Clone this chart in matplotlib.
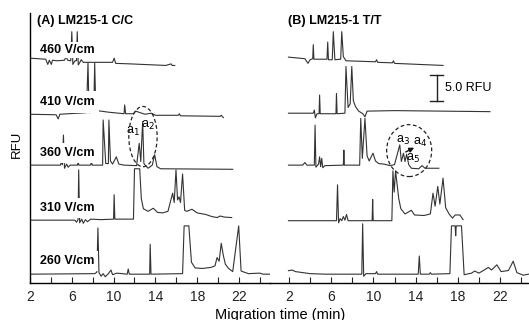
import matplotlib
matplotlib.use('Agg')
import matplotlib.pyplot as plt
from matplotlib.patches import Ellipse

plt.rcParams['font.family'] = ['Liberation Sans', 'DejaVu Sans']

# field strengths, top to bottom
fields = ['460 V/cm', '410 V/cm', '360 V/cm', '310 V/cm', '260 V/cm']
# trace baselines (RFU) used to stack the electropherograms
offsets = [42.5, 32.5, 22.5, 12.0, 1.7]

# ---- panel A: LM215-1 C/C (time in min, signal in RFU above baseline) ----
a460_t = [2.0, 3.5, 3.7, 3.85, 4.05, 4.15, 4.6, 5.3, 5.45, 5.6, 5.9, 6.0, 6.1, 6.3, 6.45,
          6.52, 6.62, 6.8, 6.9, 7.1, 9.9, 10.05, 10.2, 11.6, 15.0, 15.5, 15.6, 15.85]
a460_y = [0.8, 0.6, -0.4, 0.4, -0.4, 0.4, 0.3, 0.4, 1.1, 0.4, 0.3, 5.9, -0.4, 0.3, 0.3,
          5.9, -0.5, 0.1, 0.5, 0.0, 0.0, 0.8, -0.2, -0.3, -0.6, -0.3, -0.6, -0.6]

a410_t = [2.0, 4.5, 4.7, 4.85, 7.4, 7.55, 7.65, 8.1, 8.19, 8.3, 8.8, 9.5, 11.0, 11.06,
          11.15, 11.9, 12.1, 12.4, 13.0, 13.6, 14.0, 16.2, 16.3, 16.4, 20.2, 20.3, 20.5]
a410_y = [0.0, -0.1, -0.9, 0.0, 0.3, 9.9, 0.3, 0.4, 9.9, 0.7, 0.6, 0.4, 0.1, 1.8,
          0.1, 0.1, 0.6, 0.4, 0.0, 0.2, -0.2, -0.2, 0.1, -0.3, -0.4, -0.2, -0.65]

a360_t = [2.0, 4.9, 5.0, 5.1, 5.2, 5.3, 5.5, 5.65, 5.85, 6.55, 6.6, 6.68, 7.8, 7.87, 7.95,
          8.95, 9.0, 9.25, 9.5, 9.55, 9.7, 9.9, 10.26, 10.5, 11.0, 12.2, 12.45, 12.6,
          12.78, 12.9, 13.3, 13.7, 13.93, 14.15, 14.5, 21.4]
a360_y = [0.2, 0.2, 0.7, 0.3, 6.0, -0.4, 0.4, -0.2, 0.2, 0.2, 0.9, 0.2, 0.2, 0.9, 0.2,
          0.2, 8.9, 0.5, 0.5, 8.9, 1.0, 0.4, 1.8, 0.4, 0.2, 0.1, 4.4, 0.9,
          8.6, 0.5, -0.4, 0.2, 2.2, -0.1, -0.5, -0.6]

a310_t = [2.0, 6.3, 6.45, 6.6, 6.66, 6.75, 6.95, 7.1, 7.3, 7.5, 7.8, 8.8, 10.0, 10.05,
          10.12, 11.9, 12.0, 12.5, 12.65, 12.85, 13.3, 13.8, 14.2, 14.7, 15.2, 15.65,
          15.8, 15.97, 16.12, 16.26, 16.4, 16.6, 16.8, 17.0, 17.5, 18.0, 18.8, 19.4,
          19.9, 20.2, 20.6, 21.3]
a310_y = [0.1, 0.1, -0.3, 0.2, 9.8, -0.4, 0.3, -0.5, 0.2, -0.2, 0.3, 0.2, 0.3, 5.0,
          0.3, 0.3, 10.0, 10.0, 4.3, 2.3, 1.8, 2.4, 1.6, 1.5, 1.8, 5.3,
          3.5, 9.8, 4.0, 4.6, 3.5, 9.0, 2.0, 1.8, 2.2, 1.5, 1.2, 0.8,
          0.6, 0.9, 0.7, 0.6]

a260_t = [2.0, 8.2, 8.4, 8.5, 8.6, 8.8, 9.0, 9.2, 9.5, 9.75, 9.9, 10.3, 11.3, 11.4, 11.5,
          13.45, 13.5, 13.58, 16.6, 16.75, 17.2, 17.45, 17.8, 18.5, 19.3, 19.7, 19.9,
          20.1, 20.3, 20.5, 20.7, 21.0, 21.4, 21.97, 22.2, 22.9, 24.0, 24.3, 25.1]
a260_y = [0.0, 0.1, 0.4, 8.9, 0.3, -0.4, 0.1, -0.5, 0.1, 0.8, -0.1, 0.2, 0.0, 1.0, 0.0,
          0.0, 5.75, 0.0, 0.1, 9.3, 9.3, 2.3, 1.2, 1.1, 1.3, 1.6, 3.2,
          2.5, 5.95, 3.6, 1.9, 1.1, 0.5, 9.3, 0.6, 0.1, 0.2, 0.0, 0.0]

# ---- panel B: LM215-1 T/T ----
b460_t = [1.95, 3.5, 3.8, 4.0, 4.25, 4.3, 4.36, 5.6, 5.67, 5.74, 6.1, 6.2, 6.35, 6.9, 7.0,
          7.15, 7.4, 10.2, 10.3, 10.4, 11.8, 11.9, 12.0, 16.6]
b460_y = [1.0, 0.7, -0.2, 0.5, 0.7, 3.4, 0.6, 0.6, 3.9, 0.5, 0.5, 5.9, 0.5, 0.6, 5.9,
          1.1, 0.3, 0.1, 0.5, 0.0, -0.1, 0.3, -0.2, -0.6]

b410_t = [1.95, 4.3, 4.4, 4.5, 4.65, 4.85, 4.9, 4.96, 6.45, 6.5, 6.56, 7.3, 7.4, 7.6, 7.8,
          7.95, 8.1, 8.3, 8.6, 9.0, 9.2, 9.4, 12.0, 21.05]
b410_y = [0.2, 0.2, 0.8, -0.7, 0.1, 0.1, 3.7, 0.1, 0.1, 4.0, 0.1, 0.2, 9.2, 1.3, 2.0,
          9.2, 2.6, 1.5, 0.6, 0.1, -0.5, 0.6, 0.7, 0.5]

b360_t = [1.95, 3.3, 3.5, 3.7, 4.4, 4.47, 4.55, 4.8, 4.9, 5.0, 5.1, 5.2, 5.4, 7.15, 7.2,
          7.25, 8.7, 8.8, 8.95, 9.2, 9.4, 9.6, 9.96, 10.2, 10.5, 11.0, 11.6, 12.0, 12.5,
          12.65, 12.85, 13.0, 13.15, 13.35, 13.6, 14.3, 14.6, 14.9, 16.2]
b360_y = [0.2, 0.2, 0.7, 0.2, 0.2, 7.9, -0.2, 0.4, 1.8, -0.1, 1.5, -0.3, 0.1, 0.2, 3.1,
          0.2, 0.2, 9.2, 1.5, 9.2, 2.0, 1.0, 2.5, 1.0, 0.5, 0.4, 0.1, 0.3, 4.1,
          0.9, 2.5, 0.9, 2.3, 0.3, -0.4, -0.5, 0.1, -0.4, -0.4]

b310_t = [1.95, 6.5, 6.6, 6.7, 6.85, 7.0, 7.15, 7.3, 7.45, 7.6, 9.88, 9.93, 9.98, 11.75,
          11.85, 11.97, 12.1, 12.4, 12.6, 13.0, 13.6, 13.9, 14.8, 15.4, 15.65, 15.85,
          16.1, 16.3, 16.6, 16.85, 17.2, 17.5, 17.75, 18.2, 18.5]
b310_y = [0.0, 0.0, 6.9, -0.4, 0.4, 0.0, 0.8, 0.1, 1.2, 0.0, 0.0, 4.1, 0.0, 0.0,
          9.6, 5.5, 9.6, 4.3, 2.3, 1.3, 2.0, 1.1, 1.0, 1.3, 5.3, 2.8,
          6.6, 3.2, 8.2, 2.5, 1.2, 0.5, 1.1, 1.1, 0.2]

b260_t = [1.95, 2.3, 2.6, 4.0, 5.5, 8.9, 8.98, 9.08, 9.3, 10.2, 10.3, 10.4, 14.25, 14.35,
          14.45, 15.3, 15.4, 15.5, 17.25, 17.4, 17.75, 17.8, 17.85, 18.35, 18.6, 19.3,
          19.6, 20.0, 20.5, 20.9, 21.2, 21.7, 22.1, 22.8, 23.25, 23.6, 24.2, 24.7]
b260_y = [0.67, 0.8, 0.5, 0.1, 0.0, 0.0, 9.7, -0.4, 0.1, 0.1, 0.5, 0.0, 0.0, 3.5,
          0.0, 0.0, 0.3, 0.0, 0.1, 9.3, 9.3, 7.4, 9.3, 9.3, -0.1, 0.2,
          0.6, 0.2, 0.8, 1.3, 0.8, 1.8, 0.5, 0.7, 2.5, 0.3, -0.2, 0.0]

traces_a = [(a460_t, a460_y), (a410_t, a410_y), (a360_t, a360_y), (a310_t, a310_y), (a260_t, a260_y)]
traces_b = [(b460_t, b460_y), (b410_t, b410_y), (b360_t, b360_y), (b310_t, b310_y), (b260_t, b260_y)]

line_color = '#333333'

fig = plt.figure(figsize=(5.29, 3.2), dpi=100)
W, H = 529.0, 320.0
ax1 = fig.add_axes([30 / W, 37 / H, 240 / W, 270 / H])
ax2 = fig.add_axes([270 / W, 37 / H, 259 / W, 270 / H])
ax1.set_xlim(2, 2 + 240 / 10.45)
ax2.set_xlim(2 - 19 / 10.55, 2 + 240 / 10.55)

for ax, traces in [(ax1, traces_a), (ax2, traces_b)]:
    for (t, y), off in zip(traces, offsets):
        ax.plot(t, [v + off for v in y], color=line_color, lw=0.8, zorder=2)
    ax.set_ylim(0, 52)
    ax.set_yticks([])
    ax.set_xticks([2, 6, 10, 14, 18, 22])
    ax.set_xticks([4, 8, 12, 16, 20, 24], minor=True)
    ax.tick_params(axis='x', which='both', direction='in', length=4, width=0.8,
                   labelsize=10, pad=5, colors='#222222')
    for s in ['top', 'right']:
        ax.spines[s].set_visible(False)
    ax.spines['bottom'].set_linewidth(1.0)
    ax.patch.set_visible(False)
ax2.spines['left'].set_visible(False)
ax1.spines['left'].set_linewidth(1.0)

# trace labels in panel A (white box hides part of the peaks)
label_y = [44.9, 34.9, 25.1, 14.5, 4.2]
label_pad = [1.5, 3.5, 3.0, 3.0, 3.0]
for name, ly, p in zip(fields, label_y, label_pad):
    ax1.text(2.95, ly, name, fontsize=9, fontweight='bold', va='center', ha='left',
             bbox=dict(facecolor='white', edgecolor='none', pad=p), zorder=5)

ax1.text(2.65, 50.4, '(A) LM215-1 C/C', fontsize=9, fontweight='bold', va='center', ha='left')
ax2.text(1.9, 50.4, '(B) LM215-1 T/T', fontsize=9, fontweight='bold', va='center', ha='left')

# dashed circles around the a-peaks
ax1.add_patch(Ellipse((12.81, 28.2), 2.71, 11.6, fill=False, ls=(0, (3, 2)), lw=0.9,
                      edgecolor='#222222', zorder=4))
ax2.add_patch(Ellipse((13.39, 25.5), 4.27, 10.0, fill=False, ls=(0, (3, 2)), lw=0.9,
                      edgecolor='#222222', zorder=4))
ax1.text(11.86, 29.1, 'a$_1$', fontsize=9, ha='center', va='center')
ax1.text(13.3, 30.4, 'a$_2$', fontsize=9, ha='center', va='center')
ax2.text(12.8, 27.5, 'a$_3$', fontsize=9, ha='center', va='center')
ax2.text(14.42, 27.0, 'a$_4$', fontsize=9, ha='center', va='center')
ax2.text(13.75, 23.9, 'a$_5$', fontsize=9, ha='center', va='center')
ax2.annotate('', xy=(14.1, 26.3), xytext=(12.83, 25.0),
             arrowprops=dict(arrowstyle='-|>', lw=1.0, color='#111111', mutation_scale=7))

# 5 RFU scale bar
ax2.plot([16.0, 16.0], [35.1, 40.1], color='#222222', lw=1.0)
ax2.plot([15.4, 16.6], [40.1, 40.1], color='#222222', lw=1.0)
ax2.plot([15.4, 16.6], [35.1, 35.1], color='#222222', lw=1.0)
ax2.text(16.75, 37.6, '5.0 RFU', fontsize=9, va='center', ha='left')

fig.text(16.5 / W, 1 - 144 / H, 'RFU', rotation=90, fontsize=9.5, va='center', ha='center')
fig.text(280 / W, 1.5 / H, 'Migration time (min)', fontsize=10.5, va='baseline', ha='center')

fig.savefig('out.png', dpi=100)
